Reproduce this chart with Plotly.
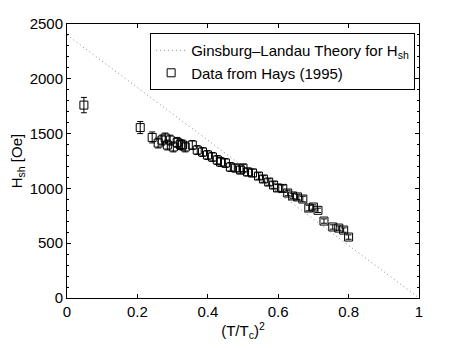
import plotly.graph_objects as go

# Ginsburg-Landau theory line endpoints
gl_x = [0.0, 1.0]
gl_y = [2400, 0]

# Data from Hays (1995)
data_x = [0.048, 0.208, 0.242, 0.259, 0.270, 0.279, 0.285, 0.293, 0.302, 0.313, 0.322,
          0.328, 0.336, 0.356, 0.370, 0.385, 0.399, 0.413, 0.427, 0.436, 0.450, 0.464,
          0.479, 0.493, 0.500, 0.513, 0.527, 0.544, 0.558, 0.573, 0.587, 0.598, 0.613,
          0.627, 0.641, 0.655, 0.670, 0.687, 0.700, 0.713, 0.730, 0.755, 0.772, 0.786, 0.800]
data_y = [1760, 1555, 1465, 1414, 1441, 1460, 1396, 1441, 1378, 1420, 1400,
          1396, 1378, 1396, 1350, 1332, 1305, 1287, 1259, 1241, 1232, 1195,
          1186, 1168, 1186, 1150, 1141, 1113, 1086, 1058, 1031, 1004, 1000,
          958, 931, 922, 903, 821, 830, 800, 702, 648, 638, 620, 556]
data_err = [70, 55, 50, 45, 45, 45, 45, 45, 45, 45, 45,
            45, 45, 40, 40, 40, 40, 40, 40, 40, 40, 40,
            35, 35, 35, 35, 35, 30, 30, 30, 30, 30, 30,
            25, 25, 25, 25, 25, 20, 20, 20, 20, 20, 20, 20]

fig = go.Figure()
fig.add_trace(go.Scatter(
    x=gl_x, y=gl_y, mode="lines",
    line=dict(color="#888888", width=1, dash="1px,3px"),
    name="Ginsburg\u2013Landau Theory for H<sub>sh</sub>"))
fig.add_trace(go.Scatter(
    x=data_x, y=data_y, mode="markers",
    marker=dict(symbol="square-open", size=8, color="black", line=dict(width=1)),
    error_y=dict(type="data", array=data_err, color="black", thickness=1, width=3),
    name="Data from Hays (1995)"))

axis_common = dict(showline=True, linecolor="black", linewidth=1, mirror="ticks",
                   ticks="inside", ticklen=4, tickcolor="black", showgrid=False,
                   zeroline=False, automargin=False,
                   tickfont=dict(size=15, color="black"))
fig.update_xaxes(range=[0, 1], dtick=0.2, tick0=0,
                 title=dict(text="(T/T<sub>c</sub>)<sup>2</sup>", font=dict(size=15, color="black"), standoff=6),
                 **axis_common)
fig.update_yaxes(range=[0, 2500], dtick=500, tick0=0,
                 minor=dict(dtick=100, ticks="inside", ticklen=2, tickcolor="black"),
                 title=dict(text="H<sub>sh</sub> [Oe]", font=dict(size=15, color="black"), standoff=6),
                 **axis_common)

fig.update_layout(
    width=455, height=340,
    margin=dict(l=59, r=44, t=16, b=50),
    paper_bgcolor="white", plot_bgcolor="white",
    font=dict(family="Liberation Sans, Arial, sans-serif", size=15, color="black"),
    showlegend=True,
    legend=dict(x=0.989, y=0.967, xanchor="right", yanchor="top",
                bgcolor="white", bordercolor="black", borderwidth=1,
                font=dict(size=15), tracegroupgap=0, itemwidth=30),
)

fig.write_html("out.html")
